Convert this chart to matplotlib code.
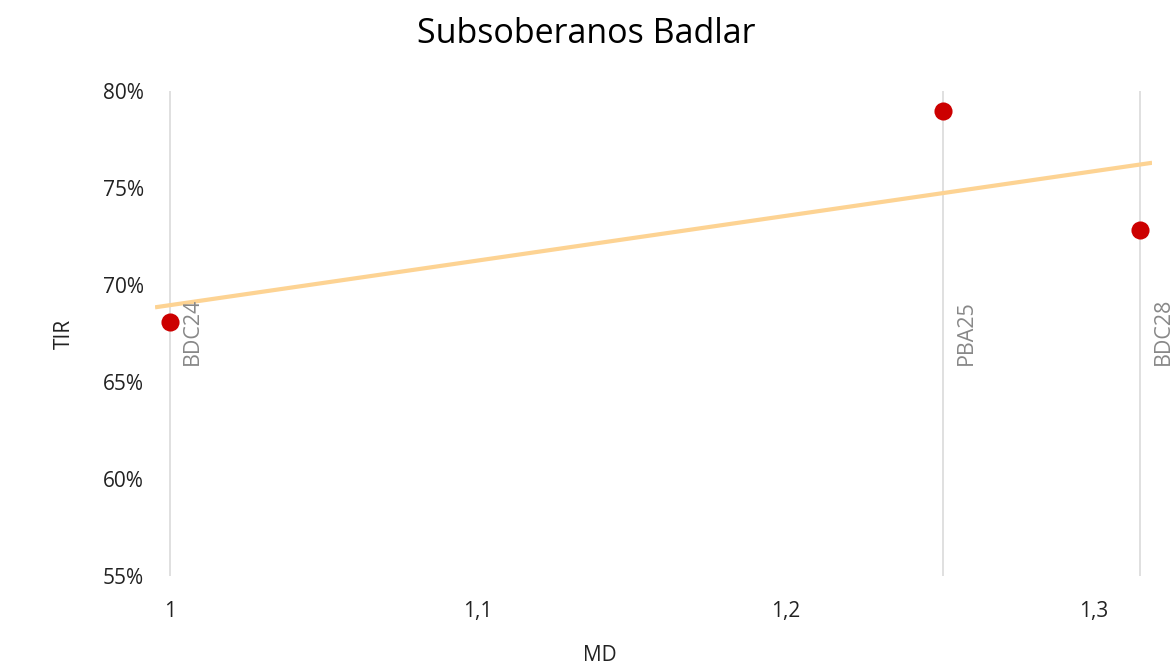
import numpy as np
import matplotlib.pyplot as plt
from matplotlib.ticker import FuncFormatter

# datos
bonos = ['BDC24', 'PBA25', 'BDC28']
md = [1.0, 1.251, 1.315]
tir = [68.1, 78.97, 72.84]
xticks = [1.0, 1.1, 1.2, 1.3]
yticks = [55, 60, 65, 70, 75, 80]

plt.rcParams['font.family'] = ['Open Sans', 'DejaVu Sans']

fig = plt.figure(figsize=(11.72, 6.68), dpi=100)
ax = fig.add_axes([0.1323, 0.1377, 0.8507, 0.7261])

# lineas verticales y etiquetas
ax.vlines(md, 55, 80, color='#dddddd', linewidth=1.3, zorder=1)
for nombre, x in zip(bonos, md):
    ax.annotate(nombre, (x, 65.9), xytext=(9, 0), textcoords='offset points',
                rotation=90, ha='left', va='bottom', color='#888888', fontsize=15.5)

# linea de tendencia (ajuste lineal)
m, b = np.polyfit(md, tir, 1)
xt = np.array([0.9952, 1.3188])
ax.plot(xt, m * xt + b, color='#fdd393', linewidth=3, zorder=2, solid_capstyle='butt')

ax.scatter(md, tir, s=170, color='#cc0000', zorder=3, linewidths=0)

ax.set_xlim(0.9952, 1.3188)
ax.set_ylim(55, 80)
ax.set_xticks(xticks)
ax.set_yticks(yticks)
ax.xaxis.set_major_formatter(FuncFormatter(lambda v, p: f'{v:g}'.replace('.', ',')))
ax.yaxis.set_major_formatter(FuncFormatter(lambda v, p: f'{v:.0f}%'))
ax.tick_params(length=0, labelsize=15, colors='#222222')
ax.tick_params(axis='x', pad=18)
ax.tick_params(axis='y', pad=8)
for s in ax.spines.values():
    s.set_visible(False)

fig.text(0.512, 0.018, 'MD', fontsize=15, ha='center', va='center', color='#222222')
ax.set_ylabel('TIR', fontsize=15, labelpad=20, color='#222222')
fig.suptitle('Subsoberanos Badlar', fontsize=24.5, y=0.975)

plt.savefig('out.png', dpi=100)
plt.close()
